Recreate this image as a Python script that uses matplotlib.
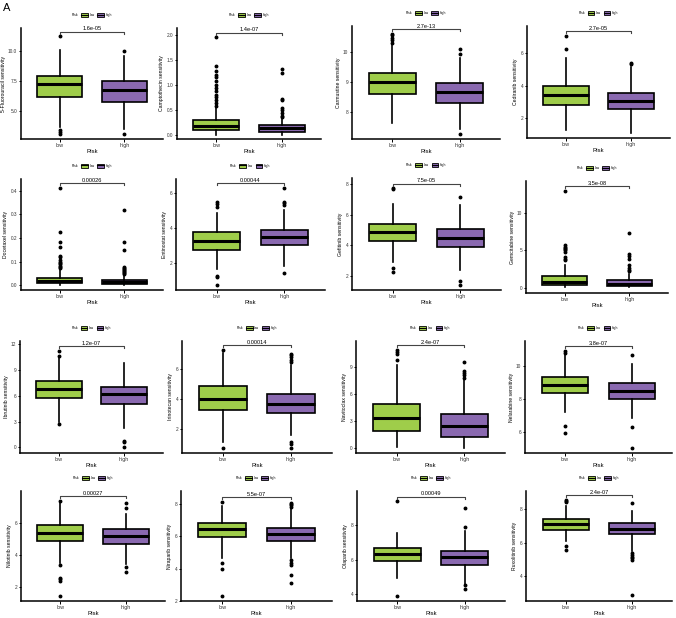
"""
Drug sensitivity boxplots (low vs high risk), 4x4 grid.
"""

import matplotlib
matplotlib.use('Agg')
import matplotlib.pyplot as plt
from matplotlib.lines import Line2D
from matplotlib.patches import Patch

plt.rcParams['font.family'] = ['Liberation Sans', 'DejaVu Sans']

GROUPS = ['low', 'high']
GREEN = '#9fcd4a'
PURPLE = '#8a69b0'

DRUGS = [
    '5-Fluorouracil', 'Camptothecin', 'Carmustine', 'Cediranib',
    'Docetaxel', 'Entinostat', 'Gefitinib', 'Gemcitabine',
    'Ibrutinib', 'Irinotecan', 'Navitoclax', 'Nelarabine',
    'Nilotinib', 'Niraparib', 'Olaparib', 'Ruxolitinib',
]

P_LABELS = [
    '1.6e-05', '1.4e-07', '2.7e-13', '2.7e-05',
    '0.00026', '0.00044', '7.5e-05', '3.5e-08',
    '1.2e-07', '0.00014', '2.4e-07', '3.8e-07',
    '0.00027', '5.5e-07', '0.00049', '2.4e-07',
]

# box stats: [whisker low, q1, median, q3, whisker high]
LOW_BOX = [
    [3.6, 6.1, 7.25, 7.86, 10.1],
    [0.0, 0.09, 0.18, 0.29, 0.55],
    [7.63, 8.61, 8.99, 9.31, 10.25],
    [1.23, 2.79, 3.42, 4.0, 5.73],
    [0.003, 0.008, 0.018, 0.032, 0.068],
    [1.67, 2.75, 3.28, 3.74, 4.85],
    [2.9, 4.29, 4.9, 5.41, 6.72],
    [0.05, 0.31, 0.76, 1.52, 3.0],
    [3.0, 5.81, 6.82, 7.75, 10.4],
    [1.12, 3.26, 3.98, 4.9, 7.1],
    [0.1, 1.89, 3.37, 4.85, 9.19],
    [7.22, 8.38, 8.82, 9.33, 10.73],
    [3.5, 4.89, 5.34, 5.86, 7.29],
    [4.65, 5.92, 6.46, 6.82, 7.86],
    [4.9, 5.94, 6.34, 6.7, 7.52],
    [6.14, 6.78, 7.11, 7.44, 8.22],
]
HIGH_BOX = [
    [3.5, 5.7, 6.75, 7.47, 9.6],
    [0.0, 0.05, 0.14, 0.19, 0.33],
    [7.44, 8.3, 8.66, 8.97, 9.81],
    [1.06, 2.52, 3.06, 3.56, 5.17],
    [0.003, 0.006, 0.012, 0.022, 0.045],
    [1.83, 3.0, 3.48, 3.9, 5.05],
    [2.4, 3.92, 4.51, 5.08, 6.65],
    [0.05, 0.18, 0.55, 1.0, 1.9],
    [2.25, 5.04, 6.2, 7.09, 9.8],
    [1.57, 3.06, 3.64, 4.34, 6.3],
    [0.0, 1.19, 2.4, 3.74, 7.5],
    [6.85, 8.02, 8.48, 8.98, 10.13],
    [3.39, 4.67, 5.18, 5.59, 6.57],
    [4.65, 5.71, 6.1, 6.48, 7.66],
    [4.6, 5.68, 6.13, 6.51, 7.66],
    [5.49, 6.53, 6.86, 7.17, 7.93],
]

LOW_FLIERS = [
    [11.2, 3.4, 3.25, 3.05],
    [1.95, 1.37, 1.27, 1.2, 1.15, 1.07, 1.0, 0.93, 0.87, 0.8, 0.75, 0.7, 0.63, 0.58],
    [10.3, 10.38, 10.45, 10.55, 10.6],
    [6.25, 7.1],
    [0.413, 0.227, 0.185, 0.16, 0.124, 0.118, 0.107, 0.1, 0.094, 0.088, 0.082,
     0.077, 0.072],
    [5.2, 5.35, 5.5, 1.25, 1.2, 0.74],
    [7.74, 7.68, 2.5, 2.24],
    [13.0, 5.67, 5.5, 5.35, 5.2, 5.0, 4.8, 4.1, 3.9, 3.7],
    [10.6, 11.28, 2.7],
    [7.3, 0.72],
    [9.8, 10.37, 10.67, 10.9],
    [10.9, 10.8, 6.39, 5.93],
    [7.4, 3.33, 2.57, 2.45, 2.37, 1.4],
    [8.12, 4.31, 4.0, 2.28],
    [9.41, 3.85],
    [8.42, 8.5, 8.58, 5.8, 5.59],
]
HIGH_FLIERS = [
    [10.0, 3.05],
    [1.31, 1.23, 0.72, 0.69, 0.53, 0.49, 0.43, 0.38, 0.35],
    [9.94, 10.11, 7.25],
    [5.32, 5.4],
    [0.318, 0.182, 0.148, 0.076, 0.072, 0.068, 0.064, 0.06, 0.056, 0.052, 0.048],
    [5.3, 5.42, 5.5, 6.3, 1.43],
    [7.15, 1.7, 1.41],
    [7.3, 4.55, 4.2, 3.88, 3.0, 2.68, 2.4, 2.23],
    [0.78, 0.58, 0.0],
    [6.5, 6.65, 6.8, 6.95, 7.05, 1.12, 1.0, 0.72],
    [7.8, 8.05, 8.3, 8.55, 9.48],
    [10.63, 6.31, 5.05],
    [6.92, 7.25, 3.23, 2.92],
    [7.78, 7.88, 7.96, 8.04, 4.5, 4.35, 4.22, 3.59, 3.1],
    [7.9, 8.99, 4.51, 4.29],
    [8.38, 5.38, 5.28, 5.18, 5.08, 4.98, 2.86],
]

Y_LIMITS = [
    (2.63, 11.9), (-0.08, 2.13), (7.1, 10.86), (0.75, 7.7),
    (-0.02, 0.45), (0.45, 6.8), (1.08, 8.4), (-0.7, 14.3),
    (-0.66, 12.4), (0.38, 7.9), (-0.55, 11.85), (4.74, 11.5),
    (1.1, 8.0), (2.0, 8.77), (3.58, 10.0), (2.53, 9.1),
]

Y_TICKS = [
    ['5.0', '7.5', '10.0'], ['0.0', '0.5', '1.0', '1.5', '2.0'], ['8', '9', '10'], ['2', '4', '6'],
    ['0.0', '0.1', '0.2', '0.3', '0.4'], ['2', '4', '6'], ['2', '4', '6', '8'], ['0', '5', '10'],
    ['0', '3', '6', '9', '12'], ['2', '4', '6'], ['0', '3', '6', '9'], ['6', '8', '10'],
    ['2', '4', '6'], ['2', '4', '6', '8'], ['4', '6', '8'], ['4', '6', '8'],
]

# axes rectangles in pixels: left, right, top, bottom
PANEL_PX = [
    (21, 163, 28, 139), (177, 321, 28, 139), (352, 500, 26, 139), (527, 670, 26, 138),
    (21, 163, 179, 290), (176, 325, 179, 290), (352, 501, 178, 290), (526, 668, 181, 293),
    (20, 163, 341, 453), (182, 332, 341, 453), (356, 505, 341, 453), (525, 672, 341, 453),
    (21, 165, 491, 601), (181, 332, 491, 601), (357, 505, 491, 601), (526, 672, 491, 601),
]

W, H = 676, 618


def make_stats(box, fliers):
    lo, q1, med, q3, hi = box
    return {'whislo': lo, 'q1': q1, 'med': med, 'q3': q3, 'whishi': hi,
            'fliers': fliers}


def draw_panel(fig, i):
    left, right, top, bottom = PANEL_PX[i]
    ax = fig.add_axes([left / W, 1 - bottom / H, (right - left) / W, (bottom - top) / H])

    stats = [make_stats(LOW_BOX[i], LOW_FLIERS[i]), make_stats(HIGH_BOX[i], HIGH_FLIERS[i])]
    res = ax.bxp(
        stats, positions=[1, 2], widths=0.7, patch_artist=True, showcaps=False,
        boxprops=dict(edgecolor='black', linewidth=1.2),
        medianprops=dict(color='black', linewidth=2.2, solid_capstyle='butt'),
        whiskerprops=dict(color='black', linewidth=1.2),
        flierprops=dict(marker='o', markerfacecolor='black', markeredgecolor='black',
                        markersize=1.8, linestyle='none'),
    )
    for patch, color in zip(res['boxes'], [GREEN, PURPLE]):
        patch.set_facecolor(color)

    ax.set_xlim(0.4, 2.6)
    ax.set_ylim(*Y_LIMITS[i])
    ax.set_xticks([1, 2])
    ax.set_xticklabels(GROUPS, fontsize=3.8, color='#333333')
    ticks = [float(t) for t in Y_TICKS[i]]
    ax.set_yticks(ticks)
    ax.set_yticklabels(Y_TICKS[i], fontsize=3.4, color='#333333')
    ax.tick_params(length=1.8, width=0.7, pad=1.0)

    for side in ['top', 'right']:
        ax.spines[side].set_visible(False)
    for side in ['left', 'bottom']:
        ax.spines[side].set_linewidth(1.1)

    ax.set_xlabel('Risk', fontsize=4.2, labelpad=1.0)
    ax.set_ylabel(f'{DRUGS[i]} sensitivity', fontsize=3.7, labelpad=1.5)

    # p value bracket above the highest point
    y0, y1 = Y_LIMITS[i]
    span = y1 - y0
    top_val = max(max(LOW_FLIERS[i] + LOW_BOX[i]), max(HIGH_FLIERS[i] + HIGH_BOX[i]))
    yb = top_val + 0.04 * span
    tick = 0.018 * span
    ax.plot([1, 1, 2, 2], [yb - tick, yb, yb, yb - tick], color='#444444', lw=0.8,
            clip_on=False)
    ax.text(1.5, yb + 0.004 * span, P_LABELS[i], ha='center', va='bottom', fontsize=4.1)

    # legend row: "Risk  [box] low  [box] high"
    handles = [Line2D([], [], linestyle='none')]
    for color in [GREEN, PURPLE]:
        handles.append((Patch(facecolor=color, edgecolor='black', linewidth=0.6),
                        Line2D([], [], color='black', linewidth=0.8)))
    ax_h = bottom - top
    ax.legend(handles, ['Risk'] + GROUPS, loc='center', ncol=3,
              bbox_to_anchor=(0.47, 1 + 13 / ax_h), frameon=False, fontsize=2.4,
              handlelength=2.0, handleheight=1.5, handletextpad=0.5,
              columnspacing=0.8, borderpad=0)
    return ax


fig = plt.figure(figsize=(W / 100, H / 100), dpi=100)
for i in range(len(DRUGS)):
    draw_panel(fig, i)

fig.text(3 / W, 1 - 3 / H, 'A', fontsize=8, ha='left', va='top')

fig.savefig('out.png', dpi=100)
plt.close(fig)
